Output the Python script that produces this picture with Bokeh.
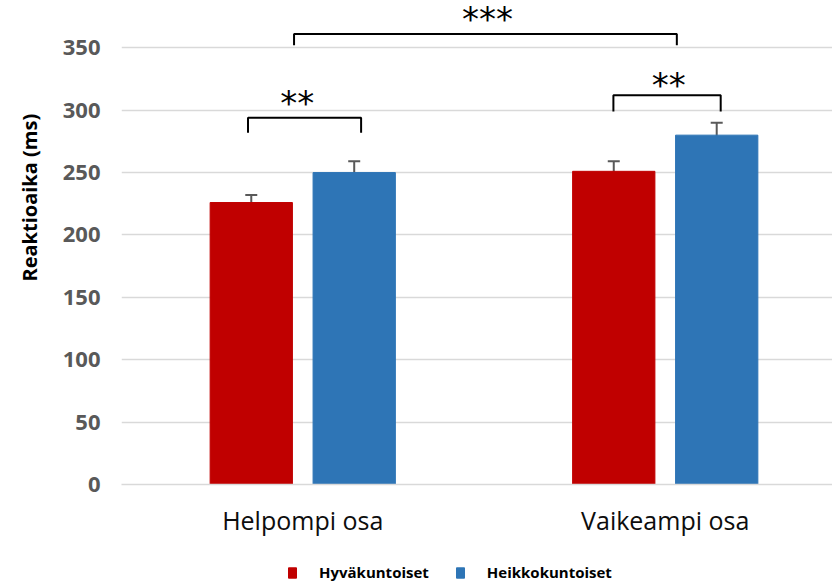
import math
from bokeh.plotting import figure
from bokeh.layouts import column
from bokeh.models import (ColumnDataSource, Range1d, FixedTicker, Whisker, TeeHead,
                          Legend, LegendItem, Title)
from bokeh.core.properties import value
from bokeh.transform import dodge
from bokeh.embed import file_html
from bokeh.resources import INLINE

# ---- data ----
categories = ["Helpompi osa", "Vaikeampi osa"]
series_names = ["Hyväkuntoiset", "Heikkokuntoiset"]
hyva = [226, 251]
heikko = [250, 280]
hyva_err = [6, 8]
heikko_err = [9, 10]
y_ticks = [0, 50, 100, 150, 200, 250, 300, 350]
y_title = "Reaktioaika (ms)"

# significance annotations
sig_text = ["**", "**", "***"]
sig_x0 = [0.349, 1.357, 0.476]
sig_x1 = [0.661, 1.653, 1.532]
sig_top = [294, 312, 361]
sig_leg = [282, 299, 352]
sig_tx = [0.485, 1.510, 1.010]
sig_ty = [305.7, 320.2, 372.7]

RED = "#C00000"
BLUE = "#2E75B6"
FONT = "Open Sans"

xc = [i + 0.5 for i in range(len(categories))]
src = ColumnDataSource(dict(
    x=xc, cat=categories,
    hyva=hyva, heikko=heikko,
    hyva_lo=[v - e for v, e in zip(hyva, hyva_err)],
    hyva_hi=[v + e for v, e in zip(hyva, hyva_err)],
    heikko_lo=[v - e for v, e in zip(heikko, heikko_err)],
    heikko_hi=[v + e for v, e in zip(heikko, heikko_err)],
))

W, H1, H2 = 832, 548, 38
p = figure(width=W, height=H1, output_backend="svg", toolbar_location=None,
           x_range=Range1d(0, 712 / 363), y_range=Range1d(0, 484 / 1.2477),
           min_border_left=120, min_border_right=0, min_border_top=0,
           min_border_bottom=64)
p.outline_line_color = None
p.background_fill_color = "white"
p.border_fill_color = "white"

OFF = 0.142
BW = 0.227
r1 = p.vbar(x=dodge("x", -OFF), top="hyva", width=BW, source=src,
            fill_color=RED, line_color=RED)
r2 = p.vbar(x=dodge("x", OFF), top="heikko", width=BW, source=src,
            fill_color=BLUE, line_color=BLUE)

for lo, hi, off in [("hyva_lo", "hyva_hi", -OFF), ("heikko_lo", "heikko_hi", OFF)]:
    w = Whisker(base=dodge("x", off), lower=lo, upper=hi, source=src,
                line_color="#595959", line_width=2,
                upper_head=TeeHead(size=12, line_color="#595959", line_width=2),
                lower_head=TeeHead(size=12, line_color="#595959", line_width=2))
    p.add_layout(w)

# significance brackets
bx = [[a, a, b, b] for a, b in zip(sig_x0, sig_x1)]
by = [[l, t, t, l] for t, l in zip(sig_top, sig_leg)]
p.multi_line(xs=bx, ys=by, line_color="black", line_width=2)
p.text(x=sig_tx, y=sig_ty, text=sig_text, text_font=value("DejaVu Sans"),
       text_font_size="34px", text_align="center", text_baseline="middle",
       text_color="black")

# axes
p.xaxis.ticker = FixedTicker(ticks=xc)
p.xaxis.major_label_overrides = {x: c for x, c in zip(xc, categories)}
p.xaxis.major_label_text_font = FONT
p.xaxis.major_label_text_font_size = "25px"
p.xaxis.major_label_text_color = "#0d0d0d"
p.xaxis.major_tick_out = 0
p.xaxis.major_tick_in = 0
p.xaxis.major_label_standoff = 18
p.xaxis.axis_line_color = "#D9D9D9"
p.xaxis.axis_line_width = 1.5
p.xaxis.major_tick_line_color = None
p.xaxis.minor_tick_line_color = None
p.xgrid.grid_line_color = None

p.yaxis.ticker = FixedTicker(ticks=y_ticks)
p.yaxis.major_label_text_font = FONT
p.yaxis.major_label_text_font_style = "bold"
p.yaxis.major_label_text_font_size = "22px"
p.yaxis.major_label_text_color = "#595959"
p.yaxis.major_tick_out = 0
p.yaxis.major_tick_in = 0
p.yaxis.major_label_standoff = 21
p.yaxis.axis_line_color = None
p.yaxis.major_tick_line_color = None
p.yaxis.minor_tick_line_color = None
p.ygrid.grid_line_color = "#D9D9D9"
p.ygrid.grid_line_width = 1.5

p.add_layout(Title(text=y_title, align="left", offset=203, vertical_align="top",
                   standoff=30, text_font=FONT, text_font_style="bold",
                   text_font_size="20px", text_color="black"), "left")

# legend strip (its frame is aligned with the main frame by the column layout)
p2 = figure(width=W, height=H2, output_backend="svg", toolbar_location=None,
            x_range=Range1d(0, 1), y_range=Range1d(0, 1),
            x_axis_location=None, y_axis_location=None,
            min_border_left=0, min_border_right=0, min_border_top=0, min_border_bottom=0)
p2.outline_line_color = None
p2.xgrid.grid_line_color = None
p2.ygrid.grid_line_color = None
l1 = p2.vbar(x=dodge("x", -OFF), top="hyva", width=BW, source=src,
             fill_color=RED, line_color=RED, visible=False)
l2 = p2.vbar(x=dodge("x", OFF), top="heikko", width=BW, source=src,
             fill_color=BLUE, line_color=BLUE, visible=False)
legend = Legend(items=[LegendItem(label=series_names[0], renderers=[l1]),
                       LegendItem(label=series_names[1], renderers=[l2])],
                orientation="horizontal", location=(166, 4),
                glyph_width=10, glyph_height=13, label_standoff=22, spacing=26,
                padding=0, margin=0, border_line_color=None,
                background_fill_alpha=0, inactive_fill_alpha=0,
                label_text_font=FONT, label_text_font_style="bold",
                label_text_font_size="15px", label_text_color="black")
p2.add_layout(legend, "center")

open("out.html", "w").write(file_html(column(p, p2, spacing=0), INLINE))
